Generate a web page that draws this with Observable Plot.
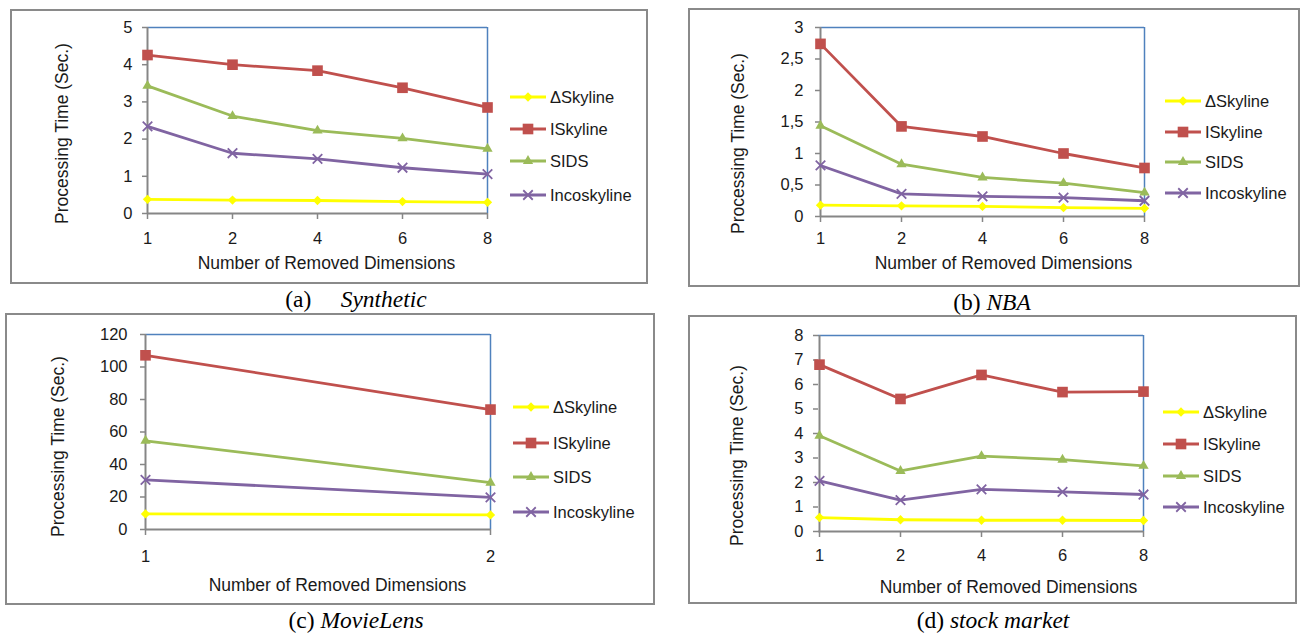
<!DOCTYPE html>
<html>
<head>
<meta charset="utf-8">
<script src="https://cdn.jsdelivr.net/npm/d3@7"></script>
<script src="https://cdn.jsdelivr.net/npm/@observablehq/plot@0.6"></script>
<style>
  html, body { margin: 0; padding: 0; background: #fff; }
  body { width: 1302px; height: 633px; position: relative; overflow: hidden; }
  .box { position: absolute; border: 2px solid #8a8a8a; box-sizing: border-box; }
  .chart { position: absolute; }
  .chart svg { overflow: visible; }
  .cap { position: absolute; font-family: "Liberation Serif", "Times New Roman", serif; font-size: 23.5px; color: #000; white-space: pre; transform: translate(-50%, -50%); }
  .leg { position: absolute; font-family: "Liberation Sans", Arial, sans-serif; font-size: 16.5px; color: #1a1a1a; display: flex; align-items: center; height: 20px; white-space: nowrap; }
  .leg svg { display: block; margin-right: 4px; }
</style>
</head>
<body>
<script>
// ---------- data ----------
const seriesNames = ["ΔSkyline", "ISkyline", "SIDS", "Incoskyline"];
const dims = ["1", "2", "4", "6", "8"];
const dimsMovie = ["1", "2"];

const synthDelta = [0.38, 0.36, 0.35, 0.32, 0.30];
const synthISky  = [4.26, 4.00, 3.84, 3.38, 2.85];
const synthSIDS  = [3.43, 2.62, 2.23, 2.02, 1.74];
const synthInco  = [2.34, 1.62, 1.47, 1.23, 1.06];

const nbaDelta = [0.18, 0.17, 0.16, 0.14, 0.13];
const nbaISky  = [2.74, 1.43, 1.27, 1.00, 0.77];
const nbaSIDS  = [1.44, 0.83, 0.62, 0.53, 0.38];
const nbaInco  = [0.81, 0.36, 0.32, 0.30, 0.25];

const movieDelta = [9.6, 9.0];
const movieISky  = [107.2, 73.8];
const movieSIDS  = [54.6, 28.8];
const movieInco  = [30.5, 19.8];

const stockDelta = [0.57, 0.48, 0.46, 0.46, 0.45];
const stockISky  = [6.81, 5.41, 6.39, 5.69, 5.71];
const stockSIDS  = [3.91, 2.47, 3.08, 2.93, 2.68];
const stockInco  = [2.07, 1.28, 1.72, 1.62, 1.51];

const ticksSynth = [0, 1, 2, 3, 4, 5];
const ticksNBA   = [0, 0.5, 1, 1.5, 2, 2.5, 3];
const ticksMovie = [0, 20, 40, 60, 80, 100, 120];
const ticksStock = [0, 1, 2, 3, 4, 5, 6, 7, 8];

const xTitle = "Number of Removed Dimensions";
const yTitle = "Processing Time (Sec.)";

// ---------- styles ----------
const COLORS = ["#FFFF00", "#C0504D", "#9BBB59", "#8064A2"];
const SYMBOLS = ["diamond2", "square", "triangle", "times"];
const D3SYM = [d3.symbolDiamond2, d3.symbolSquare, d3.symbolTriangle, d3.symbolTimes];
const RADII = [4.2, 6.0, 3.8, 4.4];
const BLUE = "#4F81BD";
const GRAY = "#868686";
const FONT = "'Liberation Sans', Arial, sans-serif";

// ---------- layout (page coordinates) ----------
const panels = [
  { dims, vals: [synthDelta, synthISky, synthSIDS, synthInco], ticks: ticksSynth, fmt: d => String(d),
    box: [10, 9, 648, 284], plot: [147, 27, 487, 213], xPad: 13, yPad: 10,
    legX: 510, legRows: [97, 129, 161, 195], xT: [326, 263], yT: [62, 133],
    cap: [356, 299], capHTML: "(a)     <i>Synthetic</i>" },
  { dims, vals: [nbaDelta, nbaISky, nbaSIDS, nbaInco], ticks: ticksNBA, fmt: d => String(d).replace(".", ","),
    box: [688, 8, 1300, 287], plot: [820, 27, 1144, 216], xPad: 10, yPad: 12,
    legX: 1165, legRows: [101, 132, 162, 193], xT: [1003, 263], yT: [738, 143],
    cap: [992, 302], capHTML: "(b) <i>NBA</i>" },
  { dims: dimsMovie, vals: [movieDelta, movieISky, movieSIDS, movieInco], ticks: ticksMovie, fmt: d => String(d),
    box: [5, 313, 655, 605], plot: [145, 334, 490, 529], xPad: 15, yPad: 13,
    legX: 513, legRows: [407, 443, 477, 512], xT: [337, 585], yT: [58, 446],
    cap: [356, 620], capHTML: "(c) <i>MovieLens</i>" },
  { dims, vals: [stockDelta, stockISky, stockSIDS, stockInco], ticks: ticksStock, fmt: d => String(d),
    box: [688, 315, 1297, 604], plot: [818, 335, 1143, 531], xPad: 12, yPad: 10,
    legX: 1163, legRows: [412, 444, 476, 507], xT: [1008, 587], yT: [737, 455],
    cap: [993, 620], capHTML: "(d) <i>stock market</i>" }
];

for (const p of panels) {
  const [bl, bt, br, bb] = p.box;
  const [pl, pt, pr, pb] = p.plot;
  const W = br - bl, H = bb - bt;

  // border box
  const box = document.createElement("div");
  box.className = "box";
  Object.assign(box.style, { left: bl + "px", top: bt + "px", width: W + "px", height: H + "px" });
  document.body.appendChild(box);

  // data table
  const rows = p.dims.flatMap((d, i) => seriesNames.map((s, k) => ({ x: d, y: p.vals[k][i], s })));

  const marks = [
    Plot.ruleY([p.ticks[p.ticks.length - 1]], { stroke: BLUE, strokeWidth: 1.5 }),
    Plot.ruleX([p.dims[p.dims.length - 1]], { stroke: BLUE, strokeWidth: 1.5 }),
    Plot.ruleX([p.dims[0]], { stroke: GRAY, strokeWidth: 2 }),
    Plot.ruleY([0], { stroke: GRAY, strokeWidth: 2 }),
    Plot.axisY(p.ticks, { tickSize: 5, tickPadding: p.yPad, stroke: GRAY, strokeWidth: 1.5, tickFormat: p.fmt, fontSize: 16.5, label: null }),
    Plot.axisX(p.dims, { tickSize: 6, tickPadding: p.xPad, stroke: GRAY, strokeWidth: 1.5, fontSize: 16.5, label: null }),
    Plot.text([xTitle], { text: d => d, frameAnchor: "bottom", textAnchor: "middle", lineAnchor: "middle",
      dx: p.xT[0] - (pl + pr) / 2, dy: p.xT[1] - pb, fontSize: 17.5, fill: "#1a1a1a" }),
    Plot.text([yTitle], { text: d => d, frameAnchor: "left", textAnchor: "middle", lineAnchor: "middle", rotate: -90,
      dx: p.yT[0] - pl, dy: p.yT[1] - (pt + pb) / 2, fontSize: 17.5, fill: "#1a1a1a" })
  ];
  seriesNames.forEach((s, k) => {
    const data = rows.filter(r => r.s === s);
    marks.push(Plot.line(data, { x: "x", y: "y", stroke: COLORS[k], strokeWidth: 2.8 }));
    const isTimes = SYMBOLS[k] === "times";
    marks.push(Plot.dot(data, {
      x: "x", y: "y", symbol: () => SYMBOLS[k], r: RADII[k],
      fill: isTimes ? "none" : COLORS[k], stroke: isTimes ? COLORS[k] : "none", strokeWidth: isTimes ? 1.8 : 0
    }));
  });

  const chart = Plot.plot({
    width: W, height: H,
    marginLeft: pl - bl, marginRight: br - pr, marginTop: pt - bt, marginBottom: bb - pb,
    x: { type: "point", domain: p.dims, padding: 0 },
    y: { domain: [0, p.ticks[p.ticks.length - 1]] },
    symbol: { type: "identity" },
    style: { fontFamily: FONT, fontSize: "16.5px", color: "#1a1a1a", background: "transparent", overflow: "visible" },
    marks
  });
  const wrap = document.createElement("div");
  wrap.className = "chart";
  Object.assign(wrap.style, { left: bl + "px", top: bt + "px" });
  wrap.appendChild(chart);
  document.body.appendChild(wrap);

  // legend
  seriesNames.forEach((s, k) => {
    const row = document.createElement("div");
    row.className = "leg";
    Object.assign(row.style, { left: p.legX + "px", top: (p.legRows[k] - 10) + "px" });
    const svg = d3.create("svg").attr("width", 36).attr("height", 16);
    svg.append("line").attr("x1", 0).attr("x2", 36).attr("y1", 8).attr("y2", 8)
      .attr("stroke", COLORS[k]).attr("stroke-width", 2.8);
    const isTimes = SYMBOLS[k] === "times";
    svg.append("path").attr("transform", "translate(18,8)")
      .attr("d", d3.symbol(D3SYM[k], Math.PI * RADII[k] * RADII[k])())
      .attr("fill", isTimes ? "none" : COLORS[k])
      .attr("stroke", isTimes ? COLORS[k] : "none")
      .attr("stroke-width", isTimes ? 1.8 : 0);
    row.appendChild(svg.node());
    const t = document.createElement("span");
    t.textContent = s;
    row.appendChild(t);
    document.body.appendChild(row);
  });

  // caption
  const cap = document.createElement("div");
  cap.className = "cap";
  cap.innerHTML = p.capHTML;
  Object.assign(cap.style, { left: p.cap[0] + "px", top: p.cap[1] + "px" });
  document.body.appendChild(cap);
}
</script>
</body>
</html>
